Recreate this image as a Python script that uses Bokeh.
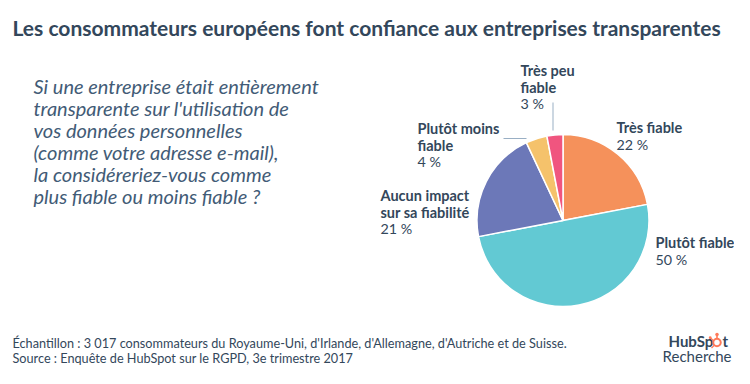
import numpy as np
from bokeh.plotting import figure
from bokeh.models import Range1d, ColumnDataSource
from bokeh.core.properties import value
from bokeh.embed import file_html
from bokeh.resources import INLINE

# ---- data ----
categories = ["Très fiable", "Plutôt fiable", "Aucun impact sur sa fiabilité",
              "Plutôt moins fiable", "Très peu fiable"]
shares = [22, 50, 21, 4, 3]
colors = ["#F5915B", "#62C9D3", "#6C78B8", "#F5C26B", "#F0557F"]
label_names = [["Très fiable"], ["Plutôt fiable"], ["Aucun impact", "sur sa fiabilité"],
               ["Plutôt moins", "fiable"], ["Très peu", "fiable"]]
title = "Les consommateurs européens font confiance aux entreprises transparentes"
question = ["Si une entreprise était entièrement",
            "transparente sur l'utilisation de",
            "vos données personnelles",
            "(comme votre adresse e-mail),",
            "la considéreriez-vous comme",
            "plus fiable ou moins fiable ?"]
footer = ["Échantillon : 3 017 consommateurs du Royaume-Uni, d'Irlande, d'Allemagne, d'Autriche et de Suisse.",
          "Source : Enquête de HubSpot sur le RGPD, 3e trimestre 2017"]

W, H = 734, 368
NAVY = "#33475B"
ORANGE = "#FF7A59"
FONT = "Lato"

p = figure(width=W, height=H, x_range=Range1d(0, W), y_range=Range1d(0, H),
           output_backend="svg", toolbar_location=None, min_border=0)
p.axis.visible = False
p.grid.visible = False
p.outline_line_color = None
p.background_fill_color = "white"

def Y(y):
    return H - y

# ---- pie ----
cx, cy, r = 562.5, 220, 86
vals = np.array(shares, dtype=float)
frac = vals / vals.sum()
cum = np.concatenate([[0], np.cumsum(frac)])
start = np.pi / 2 - cum[:-1] * 2 * np.pi
end = np.pi / 2 - cum[1:] * 2 * np.pi
src = ColumnDataSource(dict(start=start, end=end, color=colors,
                            x=[cx] * len(vals), y=[Y(cy)] * len(vals)))
p.wedge(x="x", y="y", radius=r, start_angle="start", end_angle="end",
        direction="clock", fill_color="color", line_color="white",
        line_width=1.5, source=src)

# leader lines
p.line(x=[552.5, 552.5], y=[Y(102), Y(130)], line_color="#99AFC4", line_width=1)
p.line(x=[503, 526], y=[Y(138), Y(138)], line_color="#99AFC4", line_width=1)

# ---- slice labels ----
label_pos = [(616, 127), (655, 242), (380, 195), (417, 128), (520, 70)]
for names, s, (lx, ly) in zip(label_names, shares, label_pos):
    ys = [Y(ly + 16.5 * i) for i in range(len(names))]
    p.text(x=[lx] * len(names), y=ys, text=names, text_font=value(FONT),
           text_font_style="bold", text_font_size="14.5px", text_color=NAVY,
           text_baseline="middle", text_align="left")
    p.text(x=[lx], y=[Y(ly + 16.5 * len(names))], text=[f"{s} %"],
           text_font=value(FONT), text_font_size="14.3px", text_color=NAVY,
           text_baseline="middle", text_align="left")

# ---- title ----
p.text(x=[12], y=[Y(27)], text=[title], text_font=value(FONT),
       text_font_style="bold", text_font_size="21px", text_color=NAVY,
       text_baseline="middle")

# ---- question ----
p.text(x=[33] * len(question), y=[Y(85 + 22 * i) for i in range(len(question))],
       text=question, text_font=value(FONT), text_font_style="italic",
       text_font_size="20px", text_color="#425B76", text_baseline="middle")

# ---- footer ----
p.text(x=[12, 12], y=[Y(342), Y(357)], text=footer, text_font=value(FONT),
       text_font_size="12.7px", text_color=NAVY, text_baseline="middle")

# ---- logo ----
p.text(x=[668], y=[Y(340)], text=["HubSp"], text_font=value(FONT),
       text_font_style="bold", text_font_size="15px", text_color=NAVY,
       text_baseline="middle")
# sprocket "o"
ox, oy = 716.5, 342
p.scatter(x=[ox], y=[Y(oy)], size=7.5, marker="circle", fill_color=None,
          line_color=ORANGE, line_width=2)
p.line(x=[ox, ox], y=[Y(oy - 3.5), Y(oy - 7.5)], line_color=ORANGE, line_width=1.6)
p.scatter(x=[ox], y=[Y(oy - 8)], size=3.5, marker="circle", fill_color=ORANGE,
          line_color=None)
p.line(x=[ox - 2.6, ox - 5.5], y=[Y(oy + 2.6), Y(oy + 5.5)], line_color=ORANGE,
       line_width=1.3)
p.line(x=[ox - 3.2, ox - 6.5], y=[Y(oy - 1.5), Y(oy - 4.5)], line_color=ORANGE,
       line_width=1.3)
p.scatter(x=[ox - 6.8], y=[Y(oy - 4.8)], size=2.8, marker="circle", fill_color=ORANGE,
          line_color=None)
p.text(x=[722], y=[Y(340)], text=["t"], text_font=value(FONT),
       text_font_style="bold", text_font_size="15px", text_color=NAVY,
       text_baseline="middle")
p.text(x=[731], y=[Y(355)], text=["Recherche"], text_font=value(FONT),
       text_font_size="15px", text_color=NAVY, text_baseline="middle",
       text_align="right")

open("out.html", "w").write(file_html(p, INLINE))
